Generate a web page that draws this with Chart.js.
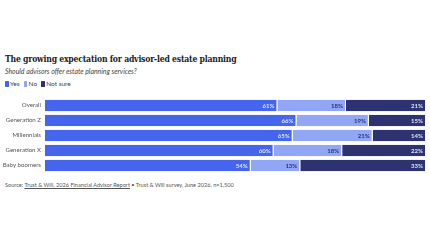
<!DOCTYPE html>
<html><head><meta charset="utf-8">
<script src="https://cdn.jsdelivr.net/npm/chart.js@4/dist/chart.umd.min.js"></script>
<style>
html,body{margin:0;padding:0;background:#fff;width:430px;height:243px;overflow:hidden;font-family:Lato,sans-serif;}
#title{position:absolute;left:5px;top:54px;font-family:"DejaVu Serif Condensed","DejaVu Serif",serif;font-weight:bold;font-size:8.6px;line-height:11px;letter-spacing:-0.22px;color:#222;white-space:nowrap}
#sub{position:absolute;left:5px;top:67px;font-style:italic;font-size:6.9px;line-height:9px;color:#444;white-space:nowrap}
#legend{position:absolute;left:5px;top:80px;font-size:6.5px;line-height:8px;height:8px;color:#444;white-space:nowrap;display:flex;align-items:center}
#legend span.sw{display:inline-block;width:3.5px;height:5.5px;margin-right:1.5px;border-radius:0.5px}
#legend span.it{margin-right:4px}
#wrap{position:absolute;left:0;top:98px;width:430px;height:75px}
#src{position:absolute;left:5px;top:181px;font-size:5.6px;line-height:8px;color:#555;white-space:nowrap}
#src u{text-decoration:underline}
</style></head><body>
<div id="title">The growing expectation for advisor-led estate planning</div>
<div id="sub">Should advisors offer estate planning services?</div>
<div id="legend"></div>
<div id="wrap"><canvas id="c"></canvas></div>
<div id="src">Source: <u>Trust &amp; Will, 2026 Financial Advisor Report</u> • Trust &amp; Will survey, June 2026, n=1,500</div>
<script>
const categories = ["Overall","Generation Z","Millennials","Generation X","Baby boomers"];
const seriesNames = ["Yes","No","Not sure"];
const yesValues = [61,66,65,60,54];
const noValues = [18,19,21,18,13];
const notSureValues = [21,15,14,22,33];
const colors = ["#4565EE","#91A7F6","#2C3370"];
const labelColors = ["#DDE4FF","#2C3370","#DDE4FF"];

const leg = document.getElementById('legend');
seriesNames.forEach((n,i)=>{
  leg.insertAdjacentHTML('beforeend',`<span class="sw" style="background:${colors[i]}"></span><span class="it">${n}</span>`);
});

const valueLabels = {
  id:'valueLabels',
  afterDatasetsDraw(chart){
    const ctx = chart.ctx;
    ctx.save();
    ctx.font = 'bold 6px Lato';
    ctx.textAlign = 'right';
    ctx.textBaseline = 'middle';
    chart.data.datasets.forEach((ds,di)=>{
      const meta = chart.getDatasetMeta(di);
      meta.data.forEach((el,i)=>{
        ctx.fillStyle = labelColors[di];
        ctx.fillText(ds.data[i]+'%', el.x-3, el.y+0.5);
      });
    });
    ctx.restore();
  }
};

const allVals = [yesValues,noValues,notSureValues];
new Chart(document.getElementById('c'),{
  type:'bar',
  data:{
    labels:categories,
    datasets:seriesNames.map((n,i)=>({
      label:n,
      data:allVals[i],
      backgroundColor:colors[i],
      borderColor:'#ffffff',
      borderWidth:{right:1,left:0,top:0,bottom:0},
      borderSkipped:false,
      categoryPercentage:1,
      barPercentage:0.76
    }))
  },
  options:{
    indexAxis:'y',
    responsive:true,
    maintainAspectRatio:false,
    animation:false,
    devicePixelRatio:1,
    layout:{padding:{left:0,right:4,top:0,bottom:0}},
    plugins:{legend:{display:false},tooltip:{enabled:false}},
    scales:{
      x:{stacked:true,min:0,max:100,display:false},
      y:{stacked:true,grid:{display:false,drawTicks:false},border:{display:false},
         ticks:{color:'#555',font:{family:'Lato',size:6.1},padding:4},
         afterFit(a){a.width=45;a.paddingTop=0;a.paddingBottom=0;}}
    }
  },
  plugins:[valueLabels]
});
</script>
</body></html>
